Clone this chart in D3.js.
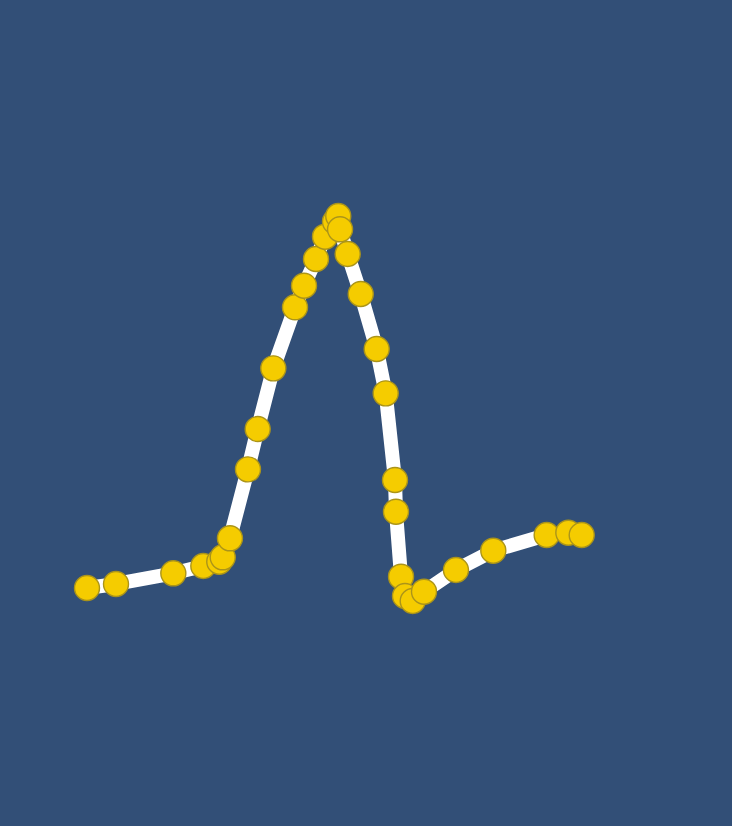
<!DOCTYPE html>
<html>
<head>
<meta charset="utf-8">
<script src="https://cdn.jsdelivr.net/npm/d3@7"></script>
<style>
  html, body { margin: 0; padding: 0; background: #324f77; }
  svg { display: block; }
</style>
</head>
<body>
<div id="chart"></div>
<script>
// DATA
const times = [0, 2.93, 8.72, 11.75, 13.36, 13.71, 14.44, 16.26, 17.24, 18.82, 21.01, 21.92,
  23.13, 24.04, 25.05, 25.38, 25.56, 26.33, 27.65, 29.26, 30.17, 31.11, 31.21, 31.72,
  32.12, 32.90, 34.04, 37.27, 41.04, 46.43, 48.62, 49.97]
const values = [0, 1.08, 3.95, 5.91, 7.07, 8.25, 13.36, 31.9, 42.74, 59.05, 75.46, 81.26,
  88.44, 94.44, 98.47, 100, 96.42, 89.78, 79.03, 64.25, 52.33, 29.03, 20.51, 3.04,
  -2.15, -3.49, -0.99, 4.84, 10.03, 14.25, 14.87, 14.25]

const data = times.map((t, i) => ({t: t, v: values[i]}))

const width = 732, height = 826

// SCALES
const xScale = d3.scaleLinear()
    .domain([0, 50])
    .range([87, 582])

const yScale = d3.scaleLinear()
    .domain([0, 100])
    .range([588, 216])

const svg = d3.select("#chart")
    .append("svg")
    .attr("width", width)
    .attr("height", height)

svg.append("rect")
    .attr("width", width)
    .attr("height", height)
    .attr("fill", "#324f77")

// DRAW LINE
const line = d3.line()
    .x(d => xScale(d.t))
    .y(d => yScale(d.v))

svg.append("path")
    .datum(data)
    .attr("d", line)
    .attr("fill", "none")
    .attr("stroke", "white")
    .attr("stroke-width", 14)
    .attr("stroke-linejoin", "round")

// DRAW POINTS
svg.append("g")
    .selectAll("circle")
    .data(data)
    .join("circle")
    .attr("cx", d => xScale(d.t))
    .attr("cy", d => yScale(d.v))
    .attr("r", 12.5)
    .attr("fill", "#f5cc00")
    .attr("stroke", "#ab9419")
    .attr("stroke-width", 1.4)
</script>
</body>
</html>
